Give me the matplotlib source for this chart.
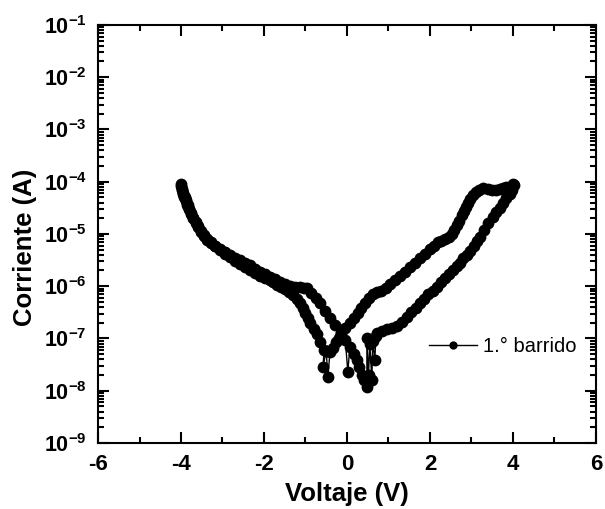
import numpy as np
import matplotlib
matplotlib.use("Agg")
from matplotlib import pyplot as plt
from matplotlib.ticker import FixedLocator, LogLocator, NullFormatter, FuncFormatter

plt.rcParams['font.family'] = ['Liberation Sans', 'DejaVu Sans']
plt.rcParams['axes.unicode_minus'] = False
plt.rcParams['mathtext.fontset'] = 'custom'
plt.rcParams['mathtext.rm'] = 'Liberation Sans:bold'
plt.rcParams['mathtext.bf'] = 'Liberation Sans:bold'
plt.rcParams['mathtext.default'] = 'rm'

# sweep -4 V -> +0.5 V (branch A)
volt_a = [-4.01, -3.97, -3.94, -3.91, -3.88, -3.84, -3.80, -3.75, -3.70, -3.64,
          -3.58, -3.52, -3.45, -3.37, -3.28, -3.17, -3.06, -2.94, -2.82, -2.70,
          -2.58, -2.46, -2.34, -2.22, -2.10, -1.98, -1.86, -1.74, -1.61, -1.49,
          -1.37, -1.25, -1.13, -1.04, -0.96, -0.86, -0.75, -0.65, -0.53, -0.41,
          -0.28, -0.14, -0.04, 0.02, 0.07, 0.16, 0.24, 0.30, 0.36, 0.42, 0.48]
curr_a = [9.0e-5, 7.1e-5, 5.9e-5, 5.0e-5, 4.4e-5, 3.6e-5, 3.0e-5, 2.5e-5, 2.0e-5, 1.7e-5,
          1.4e-5, 1.15e-5, 9.5e-6, 8.1e-6, 7.1e-6, 6.0e-6, 5.1e-6, 4.5e-6, 4.0e-6, 3.5e-6,
          3.2e-6, 2.8e-6, 2.5e-6, 2.1e-6, 1.9e-6, 1.7e-6, 1.5e-6, 1.35e-6, 1.2e-6, 1.1e-6,
          1.0e-6, 9.8e-7, 9.5e-7, 9.4e-7, 9.3e-7, 7.4e-7, 6.0e-7, 4.8e-7, 3.4e-7, 2.5e-7,
          1.8e-7, 1.3e-7, 9.5e-8, 2.3e-8, 6.9e-8, 5.1e-8, 3.9e-8, 2.8e-8, 2.0e-8, 1.6e-8, 1.2e-8]

# noisy region near +0.5 V
volt_b = [0.48, 0.52, 0.55, 0.60, 0.62, 0.67, 0.70]
curr_b = [1.0e-7, 2.0e-8, 8.0e-8, 1.6e-8, 9.0e-8, 3.9e-8, 1.1e-7]

# sweep +0.7 V -> +4 V (lower branch)
volt_c = [0.72, 0.84, 0.96, 1.08, 1.20, 1.32, 1.45, 1.55, 1.66, 1.76,
          1.86, 1.96, 2.07, 2.17, 2.27, 2.36, 2.45, 2.55, 2.64, 2.72,
          2.80, 2.89, 2.97, 3.05, 3.13, 3.20, 3.30, 3.41, 3.52, 3.60,
          3.68, 3.76, 3.84, 3.92, 3.98, 4.02]
curr_c = [1.3e-7, 1.4e-7, 1.5e-7, 1.6e-7, 1.75e-7, 2.1e-7, 2.6e-7, 3.2e-7, 3.9e-7, 4.8e-7,
          5.8e-7, 7.0e-7, 8.2e-7, 9.8e-7, 1.2e-6, 1.45e-6, 1.7e-6, 2.0e-6, 2.4e-6, 2.8e-6,
          3.4e-6, 4.0e-6, 4.8e-6, 5.9e-6, 7.2e-6, 8.7e-6, 1.2e-5, 1.6e-5, 2.1e-5, 2.6e-5,
          3.2e-5, 3.9e-5, 4.8e-5, 5.8e-5, 7.0e-5, 8.7e-5]

# sweep +4 V -> -0.4 V (upper branch)
volt_d = [3.99, 3.92, 3.83, 3.75, 3.69, 3.58, 3.49, 3.40, 3.28, 3.19,
          3.11, 3.03, 2.96, 2.91, 2.87, 2.82, 2.77, 2.71, 2.65, 2.59,
          2.53, 2.45, 2.36, 2.27, 2.19, 2.10, 2.00, 1.88, 1.76, 1.64,
          1.52, 1.40, 1.28, 1.16, 1.04, 0.93, 0.82, 0.72, 0.63, 0.53,
          0.43, 0.35, 0.27, 0.17, 0.07, -0.04, -0.14, -0.20, -0.27, -0.34, -0.41]
curr_d = [8.9e-5, 8.0e-5, 7.9e-5, 7.5e-5, 7.2e-5, 7.0e-5, 6.9e-5, 7.3e-5, 7.6e-5, 7.0e-5,
          6.3e-5, 5.5e-5, 4.7e-5, 4.0e-5, 3.3e-5, 2.8e-5, 2.3e-5, 1.8e-5, 1.5e-5, 1.2e-5,
          1.0e-5, 8.8e-6, 7.9e-6, 7.4e-6, 7.0e-6, 6.0e-6, 5.1e-6, 4.2e-6, 3.5e-6, 2.8e-6,
          2.3e-6, 1.9e-6, 1.6e-6, 1.3e-6, 1.1e-6, 9.4e-7, 8.1e-7, 7.6e-7, 7.1e-7, 5.9e-7,
          4.8e-7, 3.9e-7, 3.1e-7, 2.5e-7, 2.0e-7, 1.6e-7, 1.3e-7, 1.0e-7, 8.5e-8, 6.6e-8, 5.5e-8]

# noisy region near -0.5 V
volt_e = [-0.46, -0.50, -0.58, -0.55]
curr_e = [1.8e-8, 5.8e-8, 2.8e-8, 6.0e-8]

# sweep -0.6 V -> -4 V (branch B)
volt_f = [-0.65, -0.72, -0.80, -0.89, -0.95, -1.01, -1.07, -1.13, -1.21, -1.30,
          -1.40, -1.49, -1.59, -1.69, -1.78, -1.86, -1.98, -2.10, -2.22, -2.34,
          -2.46, -2.58, -2.70, -2.82, -2.94, -3.06, -3.17, -3.28, -3.37, -3.45,
          -3.52, -3.59, -3.65, -3.71, -3.76, -3.81, -3.85, -3.88, -3.92, -3.95,
          -3.98, -4.00]
curr_f = [8.5e-8, 1.2e-7, 1.55e-7, 2.0e-7, 2.5e-7, 3.1e-7, 3.9e-7, 4.8e-7, 5.8e-7, 6.8e-7,
          7.9e-7, 8.9e-7, 9.7e-7, 1.05e-6, 1.2e-6, 1.3e-6, 1.45e-6, 1.6e-6, 1.8e-6, 2.0e-6,
          2.3e-6, 2.7e-6, 3.1e-6, 3.6e-6, 4.2e-6, 4.9e-6, 5.8e-6, 6.8e-6, 7.8e-6, 9.1e-6,
          1.1e-5, 1.35e-5, 1.65e-5, 2.0e-5, 2.4e-5, 3.0e-5, 3.6e-5, 4.3e-5, 5.1e-5, 6.0e-5,
          7.0e-5, 8.3e-5]

voltage = np.array(volt_a + volt_b + volt_c + volt_d + volt_e + volt_f)
current = np.array(curr_a + curr_b + curr_c + curr_d + curr_e + curr_f)

fig = plt.figure(figsize=(6.05, 5.09), dpi=100)
ax = fig.add_axes([0.162, 0.1297, 0.823, 0.8213])

ax.plot(voltage, current, color='black', lw=1.0, marker='o', markersize=8.5,
        markeredgewidth=0, label='1.° barrido')
ax.set_yscale('log')
ax.set_xlim(-6, 6)
ax.set_ylim(1e-9, 1e-1)

ax.xaxis.set_major_locator(FixedLocator([-6, -4, -2, 0, 2, 4, 6]))
ax.xaxis.set_minor_locator(FixedLocator([-5, -3, -1, 1, 3, 5]))
ax.yaxis.set_major_locator(LogLocator(base=10, numticks=20))
ax.yaxis.set_minor_locator(LogLocator(base=10, subs=np.arange(2, 10), numticks=20))
ax.yaxis.set_minor_formatter(NullFormatter())
ax.yaxis.set_major_formatter(FuncFormatter(lambda v, p: r'$10^{%d}$' % int(round(np.log10(v)))))

ax.tick_params(which='both', direction='in', top=True, right=True, width=1.5)
ax.tick_params(which='major', length=8, labelsize=16, pad=8)
ax.tick_params(axis='y', which='major', labelsize=15.5)
ax.tick_params(which='minor', length=4)
for lab in ax.get_xticklabels():
    lab.set_fontweight('bold')
for sp in ax.spines.values():
    sp.set_linewidth(1.5)

ax.set_xlabel('Voltaje (V)', fontsize=18.5, fontweight='bold')
ax.set_ylabel('Corriente (A)', fontsize=18.5, fontweight='bold')
ax.xaxis.set_label_coords(0.5, -0.093)
ax.yaxis.set_label_coords(-0.122, 0.469)

ax.legend(loc='center left', bbox_to_anchor=(0.665, 0.23), frameon=False,
          fontsize=14.5, handlelength=2.4, markerscale=0.7, handletextpad=0.3,
          borderaxespad=0, borderpad=0)

fig.savefig('out.png', dpi=100)
